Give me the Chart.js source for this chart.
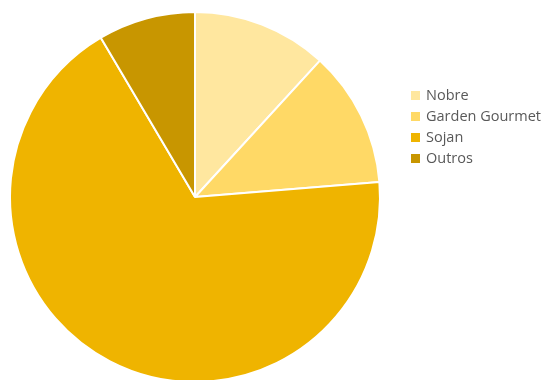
<!DOCTYPE html>
<html>
<head>
  <meta charset="utf-8">
  <title>Pie</title>
  <script src="https://cdn.jsdelivr.net/npm/chart.js@4/dist/chart.umd.min.js"></script>
  <style>
    html, body { margin: 0; padding: 0; background: #fff; overflow: hidden; }
    #wrap { position: relative; width: 551px; height: 400px; }
    #legend { position: absolute; left: 411px; top: 84px; font-family: "Open Sans", sans-serif; font-size: 14.5px; color: #595959; }
    #legend div { height: 21px; line-height: 21px; white-space: nowrap; }
    #legend span { display: inline-block; width: 9px; height: 9px; margin-right: 6px; vertical-align: 0px; }
  </style>
</head>
<body>
  <div id="wrap">
    <canvas id="c" width="551" height="400"></canvas>
    <div id="legend"></div>
  </div>
  <script>
    var labels = ['Nobre', 'Garden Gourmet', 'Sojan', 'Outros'];
    var values = [11.8, 11.9, 67.8, 8.5];
    var colors = ['#FFE79F', '#FFD966', '#EFB400', '#C89600'];

    var legend = document.getElementById('legend');
    labels.forEach(function(l, i) {
      var row = document.createElement('div');
      row.innerHTML = '<span style="background:' + colors[i] + '"></span>' + l;
      legend.appendChild(row);
    });

    new Chart(document.getElementById('c'), {
      type: 'pie',
      data: {
        labels: labels,
        datasets: [{
          data: values,
          backgroundColor: colors,
          borderColor: '#fff',
          borderWidth: 2
        }]
      },
      options: {
        responsive: false,
        animation: false,
        layout: { padding: { left: 9, right: 170, top: 11, bottom: 17 } },
        plugins: { legend: { display: false }, tooltip: { enabled: false } }
      }
    });
  </script>
</body>
</html>
